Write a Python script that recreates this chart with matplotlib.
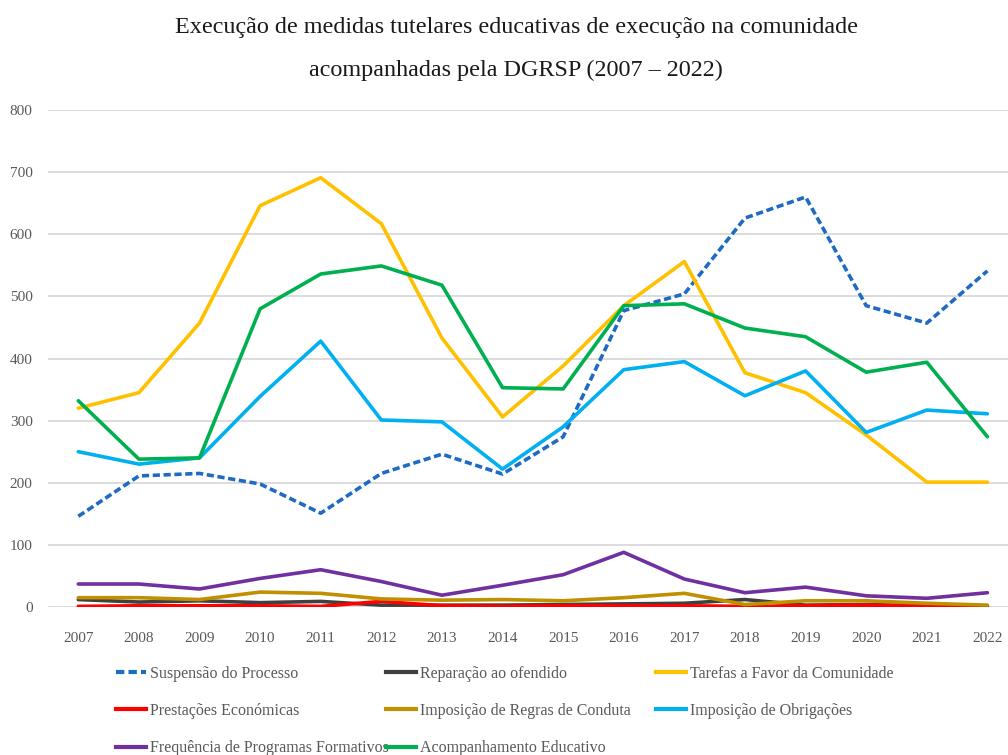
import matplotlib
matplotlib.use("Agg")
import matplotlib.pyplot as plt
from matplotlib.lines import Line2D

years = ["2007", "2008", "2009", "2010", "2011", "2012", "2013", "2014",
         "2015", "2016", "2017", "2018", "2019", "2020", "2021", "2022"]

suspensao = [146, 211, 215, 198, 151, 215, 246, 214, 274, 477, 504, 626, 660, 485, 457, 541]
reparacao = [12, 8, 10, 7, 9, 3, 3, 3, 4, 5, 6, 12, 3, 4, 2, 2]
tarefas = [320, 345, 457, 646, 691, 617, 433, 306, 388, 485, 556, 377, 345, 277, 201, 201]
prestacoes = [1, 2, 2, 2, 1, 9, 2, 1, 2, 2, 2, 1, 2, 3, 1, 1]
regras = [15, 15, 12, 24, 22, 13, 11, 12, 10, 15, 22, 4, 10, 10, 6, 3]
obrigacoes = [250, 230, 240, 339, 428, 301, 298, 222, 290, 382, 395, 340, 380, 281, 317, 311]
frequencia = [37, 37, 29, 46, 60, 41, 19, 35, 52, 88, 45, 23, 32, 18, 14, 23]
acompanhamento = [332, 238, 240, 480, 536, 549, 518, 353, 351, 485, 488, 449, 435, 378, 394, 274]

labels = ["Suspensão do Processo", "Reparação ao ofendido", "Tarefas a Favor da Comunidade",
          "Prestações Económicas", "Imposição de Regras de Conduta", "Imposição de Obrigações",
          "Frequência de Programas Formativos", "Acompanhamento Educativo"]
series = [suspensao, reparacao, tarefas, prestacoes, regras, obrigacoes, frequencia, acompanhamento]
colors = ["#1F6BC4", "#404040", "#FFC000", "#FF0000", "#BF9000", "#00B0F0", "#7030A0", "#00B050"]
styles = [(0, (2, 1)), "-", "-", "-", "-", "-", "-", "-"]

FONT = ["Liberation Serif", "DejaVu Serif"]
TXT = "#595959"

fig = plt.figure(figsize=(10.08, 7.55), dpi=100)
ax = fig.add_axes([48 / 1008, 148 / 755, 960 / 1008, 497 / 755])

x = list(range(len(years)))
for s, lab, c, ls in zip(series, labels, colors, styles):
    ax.plot(x, s, color=c, lw=2.6, linestyle=ls, label=lab,
            solid_capstyle="round", dash_capstyle="butt", solid_joinstyle="round")

ax.set_xlim(-0.5, 15.34)
ax.set_ylim(0, 800)
ax.set_yticks(range(0, 801, 100))
ax.set_xticks(x)
ax.set_xticklabels(years)
ax.grid(axis="y", color="#D9D9D9", lw=1.3)
ax.set_axisbelow(True)
for sp in ax.spines.values():
    sp.set_visible(False)
ax.tick_params(axis="both", length=0, colors=TXT, labelsize=11)
ax.tick_params(axis="y", pad=11)
ax.tick_params(axis="x", pad=18)
for t in ax.get_xticklabels() + ax.get_yticklabels():
    t.set_family(FONT)

fig.text(0.512, 1 - 28 / 755, "Execução de medidas tutelares educativas de execução na comunidade",
         ha="center", va="center", fontsize=17.4, family=FONT, color="#1a1a1a")
fig.text(0.512, 1 - 70 / 755, "acompanhadas pela DGRSP (2007 – 2022)",
         ha="center", va="center", fontsize=17.4, family=FONT, color="#1a1a1a")

# legend: three columns of equal width, filled row by row
cols = [[0, 3, 6], [1, 4, 7], [2, 5]]
col_x = [116, 386, 656]
for cx, idx in zip(col_x, cols):
    hs = [Line2D([], [], color=colors[i], lw=3, linestyle=styles[i]) for i in idx]
    leg = fig.legend(hs, [labels[i] for i in idx], loc="upper left",
                     bbox_to_anchor=(cx / 1008, 1 - 666 / 755), frameon=False,
                     handlelength=1.9, handletextpad=0.2, labelspacing=1.32,
                     borderpad=0, borderaxespad=0,
                     prop={"family": FONT, "size": 11.5})
    for t in leg.get_texts():
        t.set_color(TXT)

fig.savefig("out.png", dpi=100)
